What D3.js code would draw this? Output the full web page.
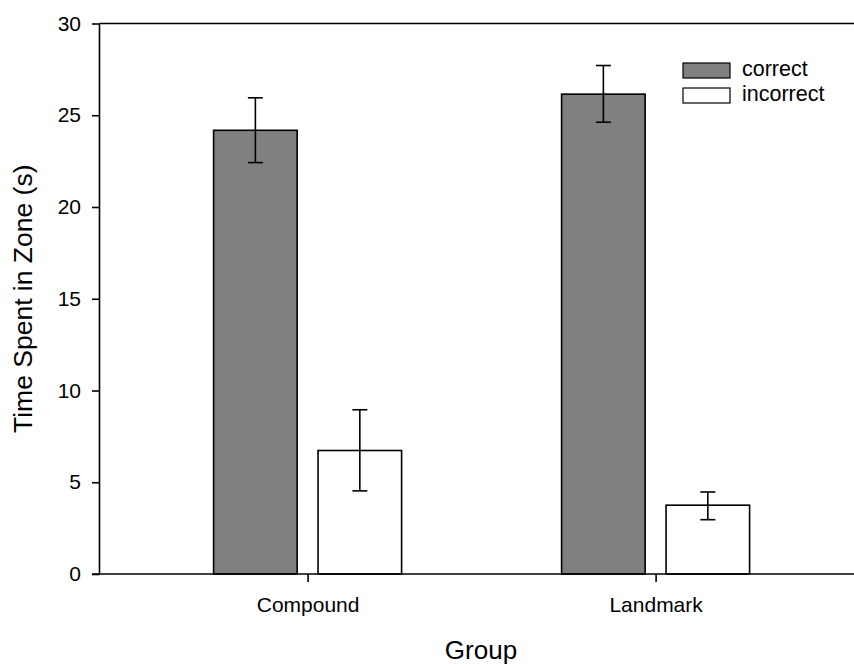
<!DOCTYPE html>
<html>
<head>
  <title>Time Spent in Zone by Group</title>
  <script src="https://d3js.org/d3.v7.min.js"></script>
  <style>
    body { margin: 0; background: #fff; }
    svg { display: block; font-family: "Liberation Sans", Arial, sans-serif; }
    .tick text { font-size: 21px; fill: #000; }
  </style>
</head>
<body>
  <svg id="chart" width="854" height="664"></svg>
  <script type="text/javascript">
    /* Chart data */
    var groups = ["Compound", "Landmark"];
    var series = ["correct", "incorrect"];
    var meanCorrect = [24.18, 26.15];
    var meanIncorrect = [6.73, 3.75];
    var errCorrect = [[22.42, 25.95], [24.62, 27.71]];
    var errIncorrect = [[4.53, 8.95], [2.96, 4.47]];
    var yTicks = [0, 5, 10, 15, 20, 25, 30];
    var fills = { correct: "#808080", incorrect: "#ffffff" };

    var rows = [];
    groups.forEach(function(g, i) {
      rows.push({ group: g, series: "correct", value: meanCorrect[i], lo: errCorrect[i][0], hi: errCorrect[i][1] });
      rows.push({ group: g, series: "incorrect", value: meanIncorrect[i], lo: errIncorrect[i][0], hi: errIncorrect[i][1] });
    });

    // plot edges (window.top is reserved, hence the plot* names)
    var plotLeft = 99.5, plotRight = 863.7, plotTop = 23.5, plotBottom = 574;

    var svg = d3.select("#chart");

    var x = d3.scalePoint()
              .domain(groups)
              .range([plotLeft, plotRight])
              .padding(0.598);

    var xInner = d3.scaleBand()
                   .domain(series)
                   .range([-94, 94])
                   .paddingInner(0.2);

    var y = d3.scaleLinear()
              .domain([0, 30])
              .range([plotBottom, plotTop]);

    /* Bars */
    svg.append("g")
       .selectAll("rect")
       .data(rows)
       .enter().append("rect")
       .attr("x", function(d) { return x(d.group) + xInner(d.series); })
       .attr("y", function(d) { return y(d.value); })
       .attr("width", xInner.bandwidth())
       .attr("height", function(d) { return y(0) - y(d.value); })
       .style("fill", function(d) { return fills[d.series]; })
       .style("stroke", "#000")
       .style("stroke-width", 1.6);

    /* Error bars */
    var err = svg.append("g")
                 .selectAll("g")
                 .data(rows)
                 .enter().append("g")
                 .attr("transform", function(d) {
                   return "translate(" + (x(d.group) + xInner(d.series) + xInner.bandwidth() / 2) + ",0)";
                 })
                 .style("stroke", "#000")
                 .style("stroke-width", 1.6);
    err.append("line")
       .attr("y1", function(d) { return y(d.lo); })
       .attr("y2", function(d) { return y(d.hi); });
    err.append("line")
       .attr("x1", -7.5).attr("x2", 7.5)
       .attr("y1", function(d) { return y(d.lo); })
       .attr("y2", function(d) { return y(d.lo); });
    err.append("line")
       .attr("x1", -7.5).attr("x2", 7.5)
       .attr("y1", function(d) { return y(d.hi); })
       .attr("y2", function(d) { return y(d.hi); });

    /* Axes */
    var yAxis = svg.append("g")
                   .attr("transform", "translate(" + plotLeft + ",0)")
                   .call(d3.axisLeft(y).tickValues(yTicks).tickSize(7.5).tickPadding(11).tickSizeOuter(0));
    var xAxis = svg.append("g")
                   .attr("transform", "translate(0," + plotBottom + ")")
                   .call(d3.axisBottom(x).tickSize(8).tickPadding(15).tickSizeOuter(0));
    var topLine = svg.append("line")
                     .attr("x1", plotLeft).attr("x2", plotRight)
                     .attr("y1", plotTop).attr("y2", plotTop);

    [yAxis, xAxis].forEach(function(a) {
      a.selectAll("path, line").style("stroke", "#000").style("stroke-width", 1.6);
      a.selectAll("text").style("font-family", "'Liberation Sans', Arial, sans-serif");
    });
    topLine.style("stroke", "#000").style("stroke-width", 1.6);
    yAxis.select(".domain").attr("d", "M0," + plotBottom + "V" + plotTop);
    xAxis.select(".domain").attr("d", "M" + (plotLeft - 7.5) + ",0H" + plotRight);

    /* Axis titles */
    svg.append("text")
       .attr("x", 481)
       .attr("y", 659)
       .attr("text-anchor", "middle")
       .style("font-size", "26px")
       .text("Group");

    svg.append("text")
       .attr("transform", "translate(32," + ((plotTop + plotBottom) / 2) + ") rotate(-90)")
       .attr("text-anchor", "middle")
       .style("font-size", "26.5px")
       .text("Time Spent in Zone (s)");

    /* Legend */
    var legend = svg.append("g")
                    .selectAll("g")
                    .data(series)
                    .enter().append("g")
                    .attr("transform", function(d, i) {
                      return "translate(683," + (63 + i * 25) + ")";
                    });
    legend.append("rect")
          .attr("width", 47)
          .attr("height", 15)
          .style("fill", function(d) { return fills[d]; })
          .style("stroke", "#000")
          .style("stroke-width", 1.2);
    legend.append("text")
          .attr("x", 59)
          .attr("y", 12.5)
          .style("font-size", "21.5px")
          .text(function(d) { return d; });
  </script>
</body>
</html>
